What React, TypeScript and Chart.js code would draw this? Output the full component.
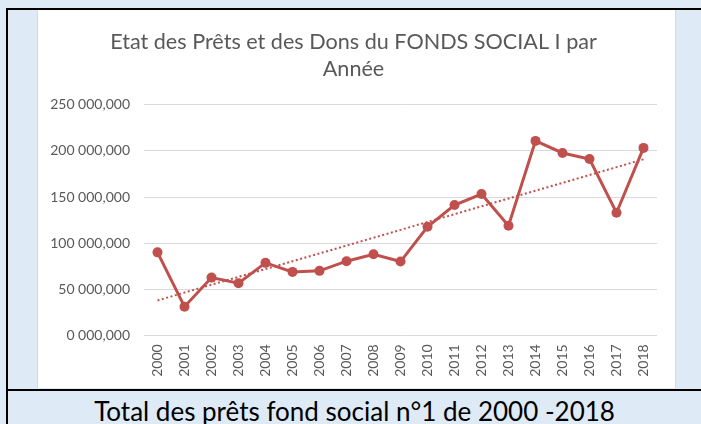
import React, { useEffect, useRef } from "react";
import { Chart, registerables } from "chart.js";

Chart.register(...registerables);

const years = [
  "2000", "2001", "2002", "2003", "2004", "2005", "2006", "2007", "2008", "2009",
  "2010", "2011", "2012", "2013", "2014", "2015", "2016", "2017", "2018",
];

const totals = [
  90000000, 31000000, 62600000, 56500000, 78600000, 68800000, 69900000, 80400000,
  88000000, 80000000, 117700000, 141300000, 153300000, 118800000, 210900000,
  197800000, 191300000, 133000000, 203300000,
];

const yTickLabels = [
  "0 000,000", "50 000,000", "100 000,000", "150 000,000", "200 000,000", "250 000,000",
];

const titleLines = ["Etat des Prêts et des Dons du FONDS SOCIAL I par", "Année"];
const caption = "Total des prêts fond social n°1 de 2000 -2018";

const LINE_COLOR = "#C0504D";
const TEXT_COLOR = "#595959";
const FONT = "Lato, 'Open Sans', sans-serif";

function linearTrend(values: number[]): number[] {
  const n = values.length;
  const mx = (n - 1) / 2;
  const my = values.reduce((a, b) => a + b, 0) / n;
  let sxy = 0;
  let sxx = 0;
  values.forEach((v, i) => {
    sxy += (i - mx) * (v - my);
    sxx += (i - mx) * (i - mx);
  });
  const slope = sxy / sxx;
  return values.map((_, i) => my + slope * (i - mx));
}

export default function App() {
  const canvasRef = useRef<HTMLCanvasElement | null>(null);

  useEffect(() => {
    if (!canvasRef.current) return;
    const chart = new Chart(canvasRef.current, {
      type: "line",
      data: {
        labels: years,
        datasets: [
          {
            label: "Tendance",
            data: linearTrend(totals),
            borderColor: LINE_COLOR,
            borderWidth: 2,
            borderDash: [2, 2.5],
            pointRadius: 0,
            fill: false,
            tension: 0,
          },
          {
            label: "Total",
            data: totals,
            borderColor: LINE_COLOR,
            backgroundColor: LINE_COLOR,
            borderWidth: 3,
            pointRadius: 5,
            pointBackgroundColor: LINE_COLOR,
            pointBorderColor: LINE_COLOR,
            pointBorderWidth: 0,
            fill: false,
            tension: 0,
          },
        ],
      },
      options: {
        animation: false,
        responsive: false,
        maintainAspectRatio: false,
        layout: { padding: { left: 12, right: 18, top: 0, bottom: 0 } },
        plugins: {
          legend: { display: false },
          tooltip: { enabled: false },
          title: {
            display: true,
            text: titleLines,
            color: TEXT_COLOR,
            font: { family: FONT, size: 21.6, weight: "normal", lineHeight: 1.27 },
            padding: { top: 18, bottom: 22 },
          },
        },
        scales: {
          x: {
            offset: true,
            grid: { display: false, drawTicks: false },
            border: { display: false },
            ticks: {
              color: TEXT_COLOR,
              font: { family: FONT, size: 14 },
              minRotation: 90,
              maxRotation: 90,
              padding: 9,
              autoSkip: false,
            },
            afterFit: (scale: any) => {
              scale.height = 52.7;
            },
          },
          y: {
            min: 0,
            max: 250000000,
            grid: { color: "#D9D9D9", lineWidth: 1, drawTicks: false },
            border: { display: false },
            ticks: {
              stepSize: 50000000,
              color: TEXT_COLOR,
              font: { family: FONT, size: 14 },
              padding: 14,
              callback: (value: any) => yTickLabels[Math.round(Number(value) / 50000000)],
            },
            afterFit: (scale: any) => {
              scale.width = 94;
            },
          },
        },
      },
    });
    return () => chart.destroy();
  }, []);

  return (
    <div
      style={{
        position: "fixed",
        left: 0,
        top: 0,
        width: 701,
        height: 424,
        background: "#DEEAF6",
        overflow: "hidden",
      }}
    >
      <div style={{ position: "absolute", left: 6, top: 8, width: 695, height: 2, background: "#000" }} />
      <div style={{ position: "absolute", left: 6, top: 8, width: 2, height: 416, background: "#000" }} />
      <div
        style={{
          position: "absolute",
          left: 37,
          top: 10,
          width: 639,
          height: 378,
          boxSizing: "border-box",
          background: "#fff",
          borderLeft: "1px solid #D9D9D9",
          borderRight: "1px solid #D9D9D9",
        }}
      >
        <canvas ref={canvasRef} width={637} height={378} style={{ display: "block", width: 637, height: 378 }} />
      </div>
      <div style={{ position: "absolute", left: 6, top: 389, width: 695, height: 2, background: "#000" }} />
      <div
        style={{
          position: "absolute",
          left: 8,
          top: 391,
          width: 693,
          height: 40,
          lineHeight: "40px",
          textAlign: "center",
          fontFamily: FONT,
          fontSize: 26,
          color: "#000",
          whiteSpace: "nowrap",
        }}
      >
        {caption}
      </div>
    </div>
  );
}
